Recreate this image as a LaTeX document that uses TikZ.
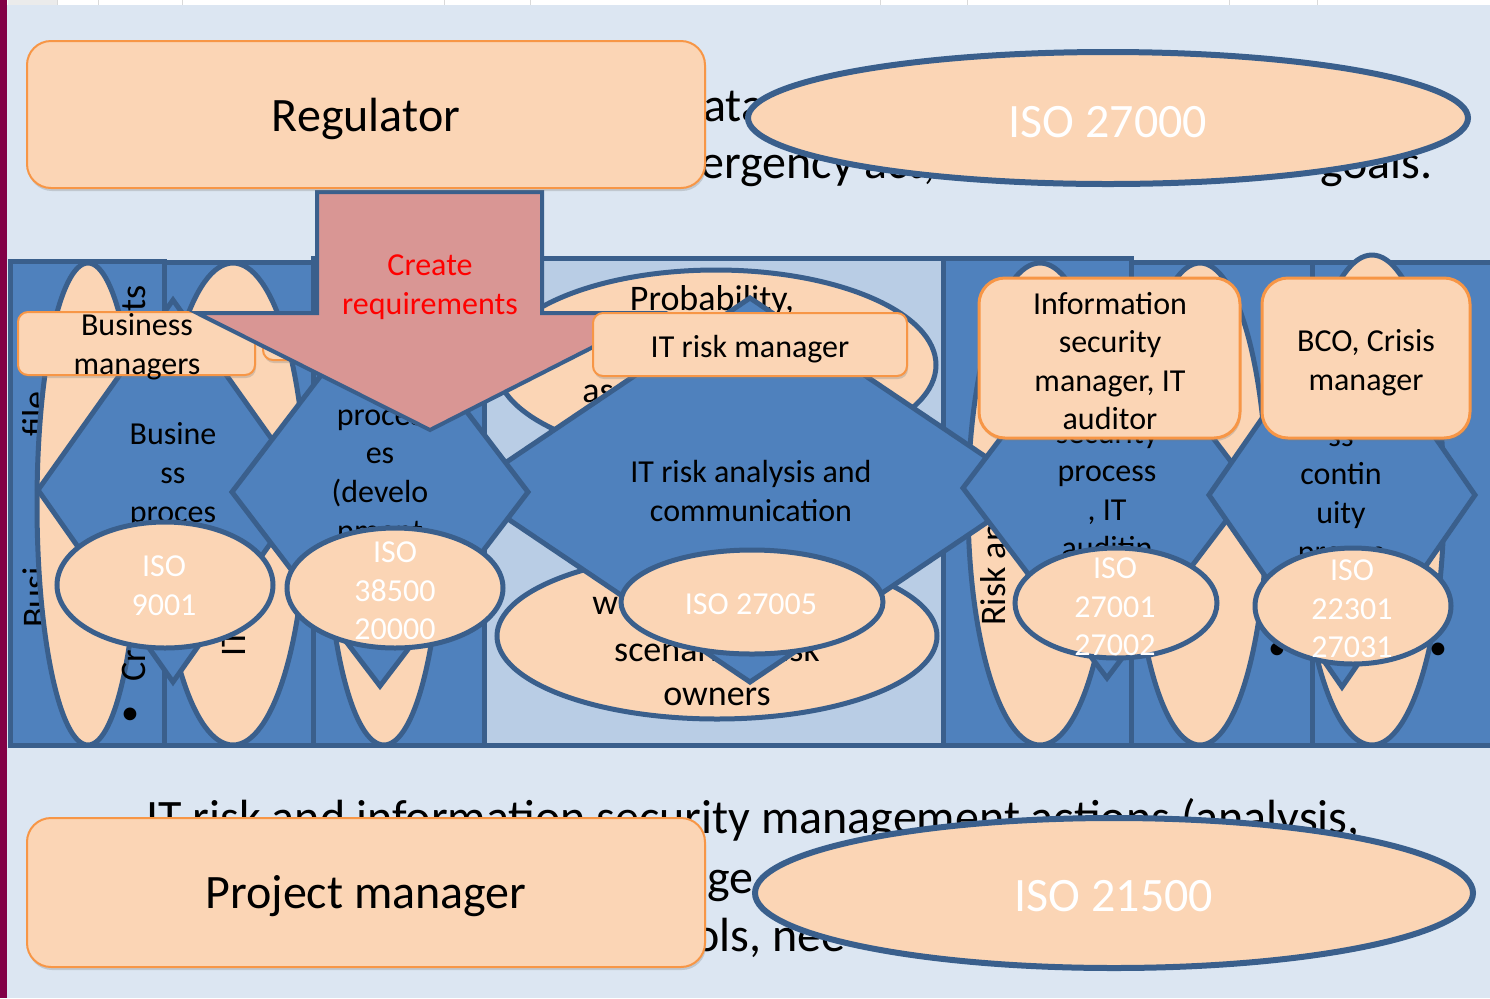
\documentclass[tikz,border=0pt]{standalone}
\usepackage{fontspec}
\setmainfont{Carlito}
\usetikzlibrary{shadows}

\definecolor{slidebg}{HTML}{DCE6F2}
\definecolor{bandblue}{HTML}{4F81BD}
\definecolor{edgeblue}{HTML}{3A5F8C}
\definecolor{panelblue}{HTML}{B9CDE5}
\definecolor{peach}{HTML}{FBD5B5}
\definecolor{boxorange}{HTML}{F79646}
\definecolor{arrowpink}{HTML}{D99694}
\definecolor{sidebar}{HTML}{820046}

\tikzset{
  colbox/.style={fill=bandblue, draw=edgeblue, line width=2.5pt},
  peachshape/.style={fill=peach, draw=edgeblue, line width=2.5pt},
  diamondshape/.style={fill=bandblue, draw=edgeblue, line width=2.5pt, line join=miter},
  rolebox/.style={fill=peach, draw=boxorange, line width=1pt, inner sep=0pt,
    drop shadow={shadow xshift=0.5pt, shadow yshift=-1.5pt, opacity=0.3}},
  bigtext/.style={font=\fontsize{24}{29}\selectfont, inner sep=0pt},
  midtext/.style={font=\fontsize{16}{19.3}\selectfont, align=center, inner sep=0pt},
  ovaltext/.style={font=\fontsize{18}{22.5}\selectfont, inner sep=0pt},
  isotext/.style={midtext, text=white},
  sidetext/.style={font=\fontsize{18}{22}\selectfont, rotate=90, inner sep=0pt},
}

\begin{document}
\begin{tikzpicture}[x=0.5pt, y=-0.5pt]
\useasboundingbox (0,0) rectangle (1490,998);

% === Slide background ===
\fill[slidebg] (0,0) rectangle (1490,998);
\fill[white] (0,0) rectangle (1490,5);
\fill[black!8] (8,0) rectangle (57,5);
\foreach \gx in {57,98,182,444,530,880,967,1229,1317}
  \draw[black!15, line width=0.5pt] (\gx,0) -- (\gx,5);
\fill[sidebar] (0,0) rectangle (7,998);

% === Slide text behind the diagram ===
\node[bigtext, anchor=base west] (topa) at (703,121) {ata};
\node[bigtext, anchor=base west] (topb) at (700,178) {ergency act,};
\node[bigtext, anchor=base east] (topc) at (1433,178) {goals.};
\node[bigtext, anchor=base west] (bota) at (146,833) {IT risk and information security management actions (analysis,};
\node[bigtext, anchor=base west] (botb) at (707,893) {ge};
\node[bigtext, anchor=base west] (botc) at (694,951) {ols, nee};

% === Columns ===
\draw[colbox] (10,261) rectangle (164,745);
\draw[colbox] (164,262) rectangle (313,745);
\draw[colbox] (313,258) rectangle (484,745);
\draw[colbox, fill=panelblue] (484,258) rectangle (943,745);
\draw[colbox] (943,258) rectangle (1131,745);
\draw[colbox] (1131,262) rectangle (1312,745);
\draw[colbox] (1312,262) rectangle (1494,745);

\node[sidetext, anchor=base west] (sidefile) at (47,437) {file};
\node[sidetext, anchor=base west] (sidebusi) at (47,628) {Busi};

% tall ovals
\draw[peachshape] (88,504) ellipse [x radius=51, y radius=241];
\draw[peachshape] (233,504) ellipse [x radius=73, y radius=241];
\draw[peachshape] (384,504) ellipse [x radius=58, y radius=241];
\draw[peachshape] (1040,504) ellipse [x radius=72, y radius=241];
\draw[peachshape] (1200,504) ellipse [x radius=67, y radius=241];
\draw[peachshape] (1372,500) ellipse [x radius=72, y radius=245];

\node[sidetext, anchor=base east] (sidets) at (145,285) {ts};
\node[sidetext, anchor=base west] (sidecr) at (145,682) {Cr};
\node[sidetext, anchor=base west] (sideit) at (245,657) {IT};
\node[sidetext, anchor=base west] (siderisk) at (1005,626) {Risk an};
\node[ovaltext] (dota) at (130,716) {\textbullet};
\node[ovaltext] (dotb) at (1277,651) {\textbullet};
\node[ovaltext] (dotc) at (1438,651) {\textbullet};

% === Risk panel ovals ===
\draw[peachshape] (716,365) ellipse [x radius=220, y radius=95];
\node[ovaltext] (probtxt) at (712,301) {Probability,};
\node[ovaltext, anchor=west] (astxt) at (582,394) {as};
\draw[peachshape] (717,636) ellipse [x radius=220, y radius=83];
\node[ovaltext, anchor=west] (wtxt) at (592,606) {w};
\node[ovaltext] (scentxt) at (717,651) {scenarios, risk};
\node[ovaltext] (ownertxt) at (717,697) {owners};

% === Process diamonds ===
\draw[diamondshape] (38,490) -- (173,300) -- (308,490) -- (173,682) -- cycle;
\node[midtext] (bizproc) at (173,475) {Busine\\ss\\proces};
\draw[diamondshape] (465,490) -- (750,298) -- (1035,490) -- (750,682) -- cycle;
\node[midtext] (itrisk) at (751,491) {IT risk analysis and\\communication};
\draw[diamondshape] (232,492) -- (380,298) -- (528,492) -- (380,686) -- cycle;
\node[midtext] (itproc) at (380,478) {proces\\es\\(develo\\pment};
\draw[diamondshape] (963,488) -- (1107,298) -- (1251,488) -- (1107,678) -- cycle;
\node[midtext] (secproc) at (1107,490) {security\\process\\, IT\\auditin};
\draw[diamondshape] (1209,495) -- (1342,303) -- (1475,495) -- (1342,687) -- cycle;
\node[midtext] (bcproc) at (1341,499) {ss\\contin\\uity\\proces};

% === Standards ===
\draw[peachshape] (165,585) ellipse [x radius=108, y radius=63];
\node[isotext] (iso9001) at (164,586) {ISO\\9001};
\draw[peachshape] (395,588) ellipse [x radius=108, y radius=60];
\node[isotext] (iso38500) at (395,591) {ISO\\38500\\20000};
\draw[peachshape] (752,602) ellipse [x radius=131, y radius=52];
\node[isotext] (iso27005) at (751,604) {ISO 27005};
\draw[peachshape] (1116,603) ellipse [x radius=101, y radius=55];
\node[isotext] (iso27001) at (1115,607) {ISO\\27001\\27002};
\draw[peachshape] (1353,606) ellipse [x radius=98, y radius=58];
\node[isotext] (iso22301) at (1352,609) {ISO\\22301\\27031};

% === Roles ===
\node[rolebox, rounded corners=5pt, minimum width=118.5pt, minimum height=31.5pt] (bizmgr) at (136.5,343.5) {};
\node[midtext] (bizmgrtxt) at (137,347) {Business\\managers};
\node[rolebox, rounded corners=5pt, minimum width=78.5pt, minimum height=20pt] (sparebox) at (341.5,340) {};

% requirement arrow
\draw[fill=arrowpink, draw=edgeblue, line width=2pt, line join=miter]
  (317,192) -- (542,192) -- (542,313) -- (660,313) -- (430,430) -- (197,313) -- (317,313) -- cycle;
\node[midtext, text=red] (reqtxt) at (430,287) {Create\\requirements};

\node[rolebox, rounded corners=12pt, minimum width=339pt, minimum height=73.5pt] (regulator) at (366,114.5) {};
\node[bigtext] (regtxt) at (366,119) {Regulator};
\node[rolebox, rounded corners=5pt, minimum width=157pt, minimum height=31.5pt] (itriskmgr) at (750,344.5) {};
\node[midtext] (itriskmgrtxt) at (750,349) {IT risk manager};
\node[rolebox, rounded corners=13pt, line width=1.5pt, minimum width=130.5pt, minimum height=80pt] (infosec) at (1109.5,358) {};
\node[midtext] (infosectxt) at (1110,361) {Information\\security\\manager, IT\\auditor};
\node[rolebox, rounded corners=13pt, line width=1.5pt, minimum width=104pt, minimum height=80pt] (bco) at (1366,358) {};
\node[midtext] (bcotxt) at (1366,362.5) {BCO, Crisis\\manager};

% === Top and bottom ===
\draw[peachshape, line width=3pt] (1108,118) ellipse [x radius=360, y radius=66];
\node[bigtext, text=white] (iso27000) at (1108,122) {ISO 27000};
\node[rolebox, rounded corners=12pt, minimum width=339pt, minimum height=74.5pt] (projmgr) at (366,892.5) {};
\node[bigtext] (projtxt) at (366,896) {Project manager};
\draw[peachshape, line width=3pt] (1114,893) ellipse [x radius=359, y radius=75];
\node[bigtext, text=white] (iso21500) at (1114,896) {ISO 21500};

\end{tikzpicture}
\end{document}
